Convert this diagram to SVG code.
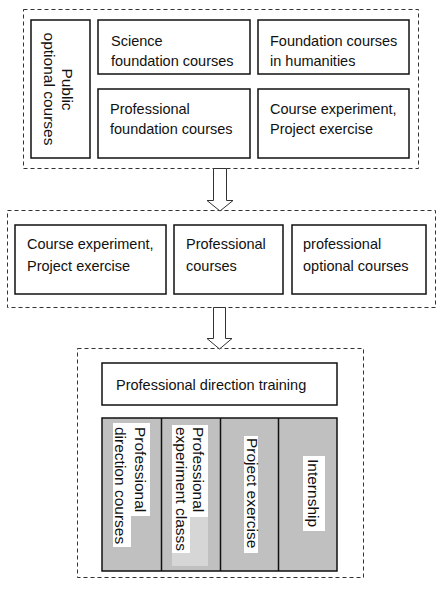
<svg xmlns="http://www.w3.org/2000/svg" width="442" height="589" viewBox="0 0 442 589">
<style>
.bg{fill:#ffffff}
.grp{fill:none;stroke:#333;stroke-width:1;stroke-dasharray:4,3}
.box{fill:#fff;stroke:#111;stroke-width:1.5}
.t{font-family:"Liberation Sans",Arial,sans-serif;font-size:14.5px;fill:#111}
.v{font-family:"Liberation Sans",Arial,sans-serif;font-size:15.5px;fill:#111}
.arrow{fill:#fff;stroke:#333;stroke-width:1}
.col{fill:#c0c0c0;stroke:#111;stroke-width:1.5}
.wb{fill:#fff}
</style>
<rect class="bg" x="0" y="0" width="442" height="589"/>
<g id="groups">
<rect class="grp" x="23.5" y="9.5" width="395" height="159"/>
<rect class="grp" x="7.5" y="210.5" width="428" height="97"/>
<rect class="grp" x="77.5" y="348.5" width="286" height="229"/>
</g>
<g id="connectors">
<path class="arrow" d="M213.5,168.5 L226.5,168.5 L226.5,200.5 L233,200.5 L220,211 L207,200.5 L213.5,200.5 Z"/>
<path class="arrow" d="M213.5,307.5 L225.5,307.5 L225.5,338.5 L232,338.5 L219.5,349 L207,338.5 L213.5,338.5 Z"/>
</g>
<g id="public-optional">
<rect class="box" x="31" y="20" width="59" height="138"/>
<text class="v" text-anchor="middle" transform="translate(61.5,89.5) rotate(90)">Public</text>
<text class="v" text-anchor="middle" transform="translate(44,89) rotate(90)">optional courses</text>
</g>
<g id="science">
<rect class="box" x="98" y="20" width="152" height="54"/>
<text class="t" x="111" y="45.5">Science</text>
<text class="t" x="111" y="65.7">foundation courses</text>
</g>
<g id="humanities">
<rect class="box" x="258" y="20" width="151" height="54"/>
<text class="t" x="270" y="45.5">Foundation courses</text>
<text class="t" x="270" y="65.7">in humanities</text>
</g>
<g id="prof-foundation">
<rect class="box" x="98" y="89" width="152" height="69"/>
<text class="t" x="110" y="113.5">Professional</text>
<text class="t" x="110" y="134">foundation courses</text>
</g>
<g id="course-exp-1">
<rect class="box" x="258" y="89" width="151" height="69"/>
<text class="t" x="270" y="113.5">Course experiment,</text>
<text class="t" x="270" y="134">Project exercise</text>
</g>
<g id="course-exp-2">
<rect class="box" x="15" y="225" width="151" height="69"/>
<text class="t" x="27" y="248.5">Course experiment,</text>
<text class="t" x="27" y="270.5">Project exercise</text>
</g>
<g id="prof-courses">
<rect class="box" x="174" y="225" width="109" height="69"/>
<text class="t" x="186" y="248.5">Professional</text>
<text class="t" x="186" y="270.5">courses</text>
</g>
<g id="prof-optional">
<rect class="box" x="292" y="225" width="134" height="69"/>
<text class="t" x="303" y="248.5">professional</text>
<text class="t" x="303" y="270.5">optional courses</text>
</g>
<g id="direction-training">
<rect class="box" x="102" y="363" width="235" height="42"/>
<text class="t" x="116" y="390">Professional direction training</text>
</g>
<g id="columns">
<rect class="col" x="102" y="418" width="235" height="153"/>
<line x1="161.5" y1="418" x2="161.5" y2="571" stroke="#111" stroke-width="1.5"/>
<line x1="220.5" y1="418" x2="220.5" y2="571" stroke="#111" stroke-width="1.5"/>
<line x1="278.5" y1="418" x2="278.5" y2="571" stroke="#111" stroke-width="1.5"/>
</g>
<g id="direction-courses">
<rect class="wb" x="131" y="423" width="19" height="93"/>
<rect class="wb" x="113" y="423" width="18" height="124"/>
<text class="v" transform="translate(134.5,427) rotate(90)">Professional</text>
<text class="v" transform="translate(114.5,427) rotate(90)">direction courses</text>
</g>
<g id="experiment-class">
<rect fill="#d6d6d6" x="172" y="425" width="36" height="141"/>
<rect class="wb" x="190" y="425" width="18" height="92"/>
<rect class="wb" x="172" y="425" width="18" height="128"/>
<text class="v" transform="translate(193,427) rotate(90)">Professional</text>
<text class="v" transform="translate(175.5,427) rotate(90)">experiment classs</text>
</g>
<g id="project-exercise">
<rect class="wb" x="244" y="436" width="14" height="117"/>
<text class="v" transform="translate(247,438) rotate(90)">Project exercise</text>
</g>
<g id="internship">
<rect class="wb" x="303" y="456" width="22" height="75"/>
<text class="v" transform="translate(308,459) rotate(90)">Internship</text>
</g>
</svg>
